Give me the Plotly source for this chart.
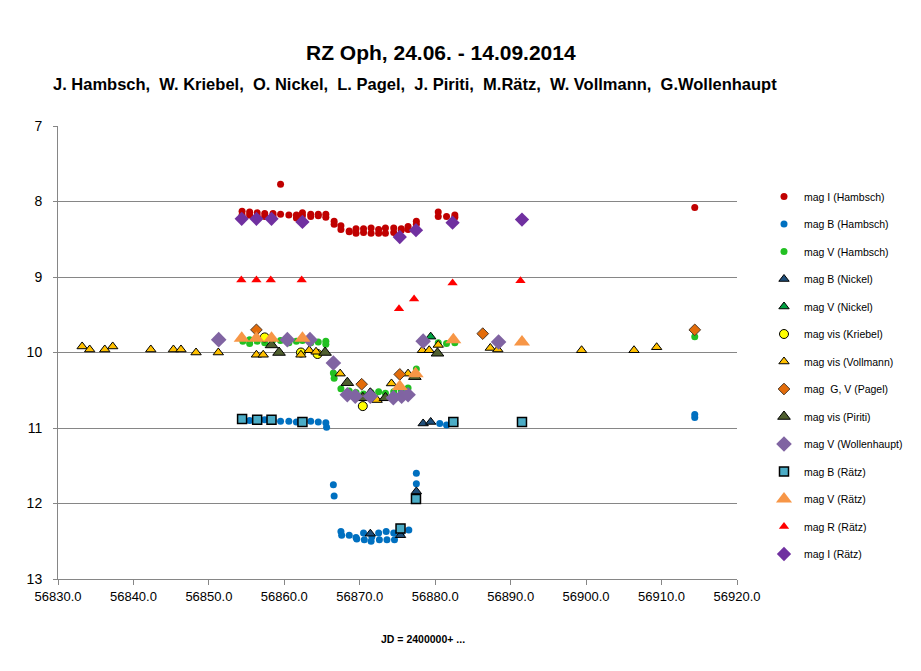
import plotly.graph_objects as go

# ---------------- data ----------------
i_ham_x = [56854.4, 56854.4, 56855.4, 56855.4, 56856.4, 56856.4, 56857.4, 56857.4, 56858.5, 56858.5,
           56859.5, 56859.5, 56860.6, 56861.6, 56861.6, 56862.4, 56862.4, 56863.5, 56863.5, 56864.5,
           56864.5, 56865.5, 56865.5, 56866.6, 56866.6, 56867.5, 56867.5, 56868.6, 56868.6, 56869.5,
           56869.5, 56870.5, 56870.5, 56871.5, 56871.5, 56872.5, 56872.5, 56873.4, 56873.4, 56874.5,
           56874.5, 56875.5, 56875.5, 56876.4, 56876.4, 56877.5, 56877.5, 56880.4, 56880.4, 56881.5,
           56882.6, 56882.6, 56914.4]
i_ham_y = [8.13, 8.18, 8.14, 8.18, 8.15, 8.19, 8.16, 8.20, 8.16, 8.19,
           8.17, 7.77, 8.18, 8.18, 8.22, 8.15, 8.19, 8.17, 8.20, 8.17,
           8.19, 8.17, 8.21, 8.26, 8.30, 8.32, 8.37, 8.39, 8.40, 8.36,
           8.42, 8.36, 8.41, 8.35, 8.42, 8.37, 8.42, 8.35, 8.42, 8.35,
           8.41, 8.36, 8.38, 8.33, 8.37, 8.26, 8.30, 8.14, 8.20, 8.20,
           8.18, 8.21, 8.08]

b_ham_x = [56854.5, 56855.4, 56856.4, 56857.4, 56858.5, 56859.5, 56860.6, 56861.6, 56862.4, 56863.5,
           56864.5, 56865.5, 56865.6, 56866.5, 56866.6, 56867.5, 56867.6, 56868.6, 56869.5, 56869.6,
           56870.5, 56870.6, 56871.5, 56871.6, 56872.5, 56872.6, 56873.5, 56873.6, 56874.5, 56874.6,
           56875.5, 56876.5, 56877.5, 56877.5, 56880.6, 56881.5, 56882.6, 56914.4, 56914.4]
b_ham_y = [10.88, 10.90, 10.90, 10.89, 10.90, 10.91, 10.91, 10.92, 10.90, 10.91,
           10.92, 10.93, 10.99, 11.75, 11.90, 12.37, 12.42, 12.42, 12.45, 12.47,
           12.39, 12.48, 12.50, 12.44, 12.39, 12.48, 12.37, 12.48, 12.39, 12.48,
           12.39, 12.35, 11.60, 11.74, 10.94, 10.96, 10.94, 10.82, 10.86]

v_ham_x = [56854.5, 56855.4, 56855.4, 56856.4, 56857.4, 56857.4, 56858.5, 56859.5, 56860.6, 56860.6,
           56861.6, 56862.4, 56863.5, 56863.5, 56864.5, 56865.5, 56865.5, 56866.5, 56866.6, 56867.5,
           56868.6, 56869.5, 56870.5, 56871.5, 56872.5, 56873.4, 56874.5, 56875.5, 56876.4, 56877.5,
           56880.4, 56881.5, 56882.6, 56914.4]
v_ham_y = [9.85, 9.83, 9.88, 9.85, 9.82, 9.87, 9.83, 9.84, 9.83, 9.87,
           9.85, 9.84, 9.83, 9.87, 9.86, 9.85, 9.89, 10.27, 10.34, 10.48,
           10.51, 10.53, 10.55, 10.53, 10.52, 10.54, 10.52, 10.50, 10.47, 10.22,
           9.87, 9.88, 9.87, 9.79]

b_nic_x = [56871.4, 56875.4, 56877.5, 56878.4, 56879.4]
b_nic_y = [12.40, 12.42, 11.84, 10.94, 10.92]

v_nic_x = [56871.4, 56879.4]
v_nic_y = [10.53, 9.79]

vis_kri_x = [56857.4, 56862.2, 56864.4, 56870.4]
vis_kri_y = [9.80, 10.00, 10.02, 10.71]

vis_vol_x = [56833.2, 56834.2, 56836.2, 56837.25, 56842.3, 56845.3, 56846.3, 56848.3, 56851.25, 56856.3,
             56857.2, 56862.2, 56863.3, 56864.2, 56867.4, 56872.3, 56874.2, 56876.4, 56878.3, 56879.2,
             56880.4, 56887.3, 56888.3, 56899.4, 56906.35, 56909.35]
vis_vol_y = [9.92, 9.96, 9.96, 9.92, 9.96, 9.96, 9.96, 10.00, 10.00, 10.03,
             10.03, 10.03, 9.97, 9.99, 10.28, 10.63, 10.41, 10.28, 9.97, 9.97,
             9.90, 9.94, 9.96, 9.97, 9.97, 9.93]

gv_pag_x = [56856.3, 56870.25, 56875.3, 56886.3, 56914.4]
gv_pag_y = [9.70, 10.42, 10.29, 9.75, 9.70]

vis_pir_x = [56858.3, 56859.3, 56865.4, 56868.35, 56870.4, 56871.4, 56873.4, 56877.3, 56880.3]
vis_pir_y = [9.90, 10.00, 10.00, 10.40, 10.60, 10.54, 10.60, 10.32, 10.01]

v_wol_x = [56851.3, 56860.4, 56863.4, 56866.5, 56868.35, 56869.4, 56871.4, 56874.45, 56875.55, 56876.4,
           56878.4, 56888.4]
v_wol_y = [9.83, 9.83, 9.83, 10.14, 10.56, 10.58, 10.58, 10.60, 10.58, 10.56,
           9.85, 9.86]

b_rat_x = [56854.4, 56856.4, 56858.3, 56862.4, 56875.4, 56877.45, 56882.4, 56891.5]
b_rat_y = [10.88, 10.89, 10.89, 10.92, 12.33, 11.94, 10.92, 10.92]

v_rat_x = [56854.35, 56856.3, 56858.3, 56862.4, 56875.3, 56877.4, 56882.4, 56891.5]
v_rat_y = [9.81, 9.81, 9.81, 9.81, 10.45, 10.28, 9.83, 9.86]

r_rat_x = [56854.3, 56856.3, 56858.2, 56862.3, 56875.2, 56877.2, 56882.3, 56891.3]
r_rat_y = [9.04, 9.04, 9.04, 9.04, 9.42, 9.29, 9.08, 9.05]

i_rat_x = [56854.35, 56856.3, 56858.3, 56862.4, 56875.3, 56877.45, 56882.3, 56891.5]
i_rat_y = [8.23, 8.23, 8.23, 8.27, 8.47, 8.38, 8.28, 8.24]

x_ticks = [56830, 56840, 56850, 56860, 56870, 56880, 56890, 56900, 56910, 56920]
y_ticks = [7, 8, 9, 10, 11, 12, 13]

title1 = "RZ Oph, 24.06. - 14.09.2014"
title2 = "J. Hambsch,  W. Kriebel,  O. Nickel,  L. Pagel,  J. Piriti,  M.Rätz,  W. Vollmann,  G.Wollenhaupt"
x_title = "JD = 2400000+ ..."

# ---------------- figure ----------------
FONT = "Liberation Sans, Arial, sans-serif"
fig = go.Figure()

def add(name, xs, ys, symbol, size, color, line_color=None, line_width=0):
    fig.add_trace(go.Scatter(
        x=xs, y=ys, mode="markers", name=name, legendgroup=name,
        marker=dict(symbol=symbol, size=size, color=color,
                    line=dict(color=line_color or color, width=line_width)),
    ))

add("mag I (Hambsch)", i_ham_x, i_ham_y, "circle", 7, "#c00000")
add("mag B (Hambsch)", b_ham_x, b_ham_y, "circle", 7, "#0070c0")
add("mag V (Hambsch)", v_ham_x, v_ham_y, "circle", 7, "#22c022")
add("mag B (Nickel)", b_nic_x, b_nic_y, "triangle-up", 9, "#1f4e79", "#000000", 1)
add("mag V (Nickel)", v_nic_x, v_nic_y, "triangle-up", 9, "#00a040", "#000000", 1)
add("mag vis (Kriebel)", vis_kri_x, vis_kri_y, "circle", 9, "#ffff00", "#000000", 1)
add("mag vis (Vollmann)", vis_vol_x, vis_vol_y, "triangle-up", 9, "#ffc000", "#000000", 1)
add("mag  G, V (Pagel)", gv_pag_x, gv_pag_y, "diamond", 9, "#e36c0a", "#4d3a2a", 1)
add("mag vis (Piriti)", vis_pir_x, vis_pir_y, "triangle-up", 11, "#4f5f2f", "#000000", 1)
add("mag V (Wollenhaupt)", v_wol_x, v_wol_y, "diamond", 12, "#8064a2")
add("mag B (Rätz)", b_rat_x, b_rat_y, "square", 9, "#4bacc6", "#000000", 1.5)
add("mag V (Rätz)", v_rat_x, v_rat_y, "triangle-up", 14, "#f79646")
add("mag R (Rätz)", r_rat_x, r_rat_y, "triangle-up", 9, "#ff0000")
add("mag I (Rätz)", i_rat_x, i_rat_y, "diamond", 11, "#7030a0")

L, R, T, B = 58, 184, 126, 92
W, H = 921, 671
pw, ph = W - L - R, H - T - B

def px(xpix):
    return (xpix - L) / pw

def py(ypix):
    return (H - B - ypix) / ph

fig.update_layout(
    width=W, height=H,
    margin=dict(l=L, r=R, t=T, b=B, pad=0),
    paper_bgcolor="white", plot_bgcolor="white",
    font=dict(family=FONT, size=13, color="#000000"),
    showlegend=True,
    legend=dict(x=px(764), y=py(182), xanchor="left", yanchor="top",
                font=dict(size=10.5, color="#000000"), tracegroupgap=8.5,
                itemwidth=30, bgcolor="rgba(0,0,0,0)"),
    annotations=[
        dict(text="<b>" + title1 + "</b>", x=px(441), y=py(52), xref="paper", yref="paper",
             showarrow=False, font=dict(size=21, family=FONT), xanchor="center", yanchor="middle"),
        dict(text="<b>" + title2 + "</b>", x=px(415), y=py(84), xref="paper", yref="paper",
             showarrow=False, font=dict(size=16.5, family=FONT), xanchor="center", yanchor="middle"),
        dict(text="<b>" + x_title + "</b>", x=px(423), y=py(639), xref="paper", yref="paper",
             showarrow=False, font=dict(size=10.5, family=FONT), xanchor="center", yanchor="middle"),
    ],
)

fig.update_xaxes(
    range=[56830, 56920], tickvals=x_ticks, ticktext=[f"{v:.1f}" for v in x_ticks],
    showgrid=False, zeroline=False, showline=True, linecolor="#868686", linewidth=1,
    ticks="outside", ticklen=5, tickcolor="#868686", tickfont=dict(size=13),
)
fig.update_yaxes(
    range=[13, 7], tickvals=y_ticks, ticktext=[str(v) for v in y_ticks],
    showgrid=True, gridcolor="#868686", gridwidth=1, zeroline=False,
    showline=True, linecolor="#868686", linewidth=1,
    ticks="outside", ticklen=4, tickcolor="#868686", tickfont=dict(size=14),
    ticklabelstandoff=8,
)

fig.write_html("out.html")
